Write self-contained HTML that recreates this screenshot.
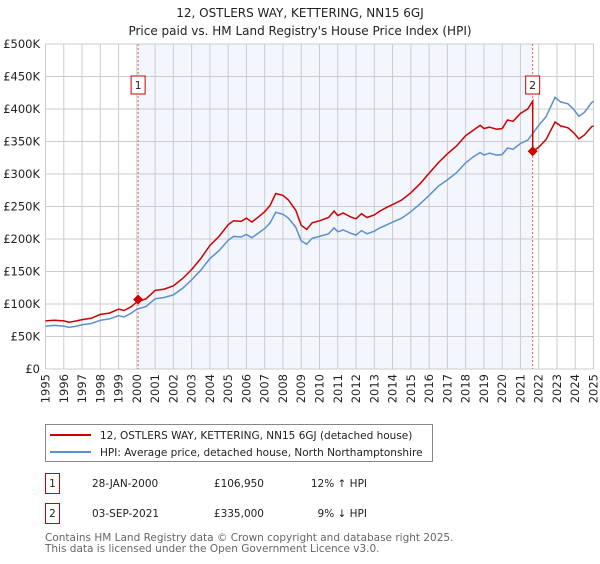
<!DOCTYPE html>
<html><head><meta charset="utf-8"><style>
body{margin:0;background:#fff;width:600px;height:560px;overflow:hidden;font-family:"DejaVu Sans","Liberation Sans",sans-serif;}
svg text{font-family:"DejaVu Sans","Liberation Sans",sans-serif;}
</style></head><body>
<svg id="c" width="600" height="560"></svg>
<script>
const years=[1995.0,1995.5,1996.0,1996.3,1996.7,1997.0,1997.5,1998.0,1998.5,1999.0,1999.3,1999.7,2000.0,2000.5,2001.0,2001.5,2002.0,2002.5,2003.0,2003.5,2004.0,2004.5,2005.0,2005.3,2005.7,2006.0,2006.3,2006.7,2007.0,2007.3,2007.6,2008.0,2008.3,2008.7,2009.0,2009.3,2009.6,2010.0,2010.5,2010.8,2011.0,2011.3,2011.7,2012.0,2012.3,2012.6,2013.0,2013.3,2013.7,2014.0,2014.5,2015.0,2015.5,2016.0,2016.5,2017.0,2017.5,2018.0,2018.4,2018.8,2019.0,2019.3,2019.7,2020.0,2020.3,2020.6,2021.0,2021.4,2021.67,2021.67,2022.0,2022.4,2022.9,2023.2,2023.6,2023.9,2024.2,2024.5,2024.9,2025.0];
const hpiValues=[66,67,66,64,66,68,70,75,77,82,80,86,92,96,108,110,114,124,137,152,170,182,198,204,203,207,202,210,216,225,241,238,232,218,197,192,201,204,208,217,211,214,209,206,213,208,212,217,222,226,232,242,254,267,281,291,302,317,326,333,329,332,329,330,340,338,347,352,362,362,375,388,418,411,408,400,389,395,410,412];
const priceValues=[74,75,74,72,74,76,78,84,86,92,90,96,103,108,121,123,128,139,153,170,190,204,222,228,227,232,226,235,242,252,270,267,260,244,221,215,225,228,233,243,236,240,234,231,239,233,237,243,249,253,260,271,285,301,317,331,343,359,367,375,370,372,369,370,383,381,393,400,412,335,341,353,380,374,371,364,354,360,373,374];
const saleYears=[2000.07,2021.67];
const salePrices=[106.95,335];
const yTicks=[0,50,100,150,200,250,300,350,400,450,500];
const yTickLabels=["£0","£50K","£100K","£150K","£200K","£250K","£300K","£350K","£400K","£450K","£500K"];
const xTicks=[1995,1996,1997,1998,1999,2000,2001,2002,2003,2004,2005,2006,2007,2008,2009,2010,2011,2012,2013,2014,2015,2016,2017,2018,2019,2020,2021,2022,2023,2024,2025];

const L=45.5,R=593.5,T=44,B=369;
const X=y=>L+(y-1995)/30*(R-L);
const Y=v=>B-v/500*(B-T);
const s=document.getElementById('c');
const NS='http://www.w3.org/2000/svg';
function mk(t,a,txt){const e=document.createElementNS(NS,t);for(const k in a)e.setAttribute(k,a[k]);if(txt!==undefined)e.textContent=txt;s.appendChild(e);return e;}

let e=mk('text',{x:300,y:17,'text-anchor':'middle','font-size':12,fill:'#222'},'12, OSTLERS WAY, KETTERING, NN15 6GJ');


e=mk('text',{x:300,y:35,'text-anchor':'middle','font-size':12,fill:'#222'},"Price paid vs. HM Land Registry's House Price Index (HPI)");



e=mk('rect',{x:X(saleYears[0]),y:T,width:X(saleYears[1])-X(saleYears[0]),height:B-T,fill:'#f3f6fd'});



yTicks.forEach((v,i)=>{
 let g=mk('line',{x1:L,x2:R,y1:Y(v),y2:Y(v),stroke:'#cccccc','stroke-width':1});
 
 
 let t=mk('text',{x:40,y:Y(v)+4,'text-anchor':'end','font-size':11.5,fill:'#222'},yTickLabels[i]);
 
 
});
xTicks.forEach(y=>{
 let g=mk('line',{x1:X(y),x2:X(y),y1:T,y2:B,stroke:'#cccccc','stroke-width':1});
 
 
 const tx=X(y)+4,ty=374;
 let t=mk('text',{x:tx,y:ty,'text-anchor':'end','font-size':11.5,fill:'#222',transform:`rotate(-90 ${tx} ${ty})`},String(y));
 
 
});
e=mk('rect',{x:L,y:T,width:R-L,height:B-T,fill:'none',stroke:'#cccccc'});



saleYears.forEach((y,i)=>{
 let l=mk('line',{x1:X(y),x2:X(y),y1:T,y2:B,stroke:'#e06060','stroke-width':1,'stroke-dasharray':'2,2'});
 
 
});

const pts=a=>years.map((y,i)=>X(y).toFixed(1)+','+Y(a[i]).toFixed(1)).join(' ');
e=mk('polyline',{points:pts(hpiValues),fill:'none',stroke:'#5b8fd0','stroke-width':1.5});


e=mk('polyline',{points:pts(priceValues),fill:'none',stroke:'#cc0000','stroke-width':1.5});



saleYears.forEach((y,i)=>{
 const cx=X(y),cy=Y(salePrices[i]);
 let d=mk('polygon',{points:`${cx},${cy-5} ${cx+5},${cy} ${cx},${cy+5} ${cx-5},${cy}`,fill:'#cc0000'});
 
 
 let bx=mk('rect',{x:cx-7,y:76,width:14,height:18,fill:'#fff',stroke:'#cc0000'});
 
 
 let t=mk('text',{x:cx,y:89,'text-anchor':'middle','font-size':11,fill:'#222'},String(i+1));
 
 
});

e=mk('rect',{x:45.5,y:424.5,width:387,height:37,fill:'#fff',stroke:'#888'});


e=mk('line',{x1:50,x2:91,y1:435,y2:435,stroke:'#cc0000','stroke-width':2});


e=mk('text',{x:100,y:439,'font-size':10.5,fill:'#222'},'12, OSTLERS WAY, KETTERING, NN15 6GJ (detached house)');


e=mk('line',{x1:50,x2:91,y1:452,y2:452,stroke:'#5b8fd0','stroke-width':2});


e=mk('text',{x:100,y:456,'font-size':10.5,fill:'#222'},'HPI: Average price, detached house, North Northamptonshire');



const rows=[["1","28-JAN-2000","£106,950","12% ↑ HPI",483],["2","03-SEP-2021","£335,000","9% ↓ HPI",513]];
rows.forEach(r=>{
 let b=mk('rect',{x:45.5,y:r[4]-9.5,width:14,height:20,fill:'#fff',stroke:'#cc0000'});
 
 
 let t=mk('text',{x:52.5,y:r[4]+4,'text-anchor':'middle','font-size':10.5,fill:'#222'},r[0]);
 
 
 t=mk('text',{x:92,y:r[4]+4,'font-size':10.5,fill:'#222'},r[1]);
 
 
 t=mk('text',{x:264,y:r[4]+4,'text-anchor':'end','font-size':10.5,fill:'#222'},r[2]);
 
 
 t=mk('text',{x:367,y:r[4]+4,'text-anchor':'end','font-size':10.5,fill:'#222'},r[3]);
 
 
});
e=mk('text',{x:45,y:541,'font-size':10.5,fill:'#666'},'Contains HM Land Registry data © Crown copyright and database right 2025.');


e=mk('text',{x:45,y:552,'font-size':10.5,fill:'#666'},'This data is licensed under the Open Government Licence v3.0.');


</script>
</body></html>
